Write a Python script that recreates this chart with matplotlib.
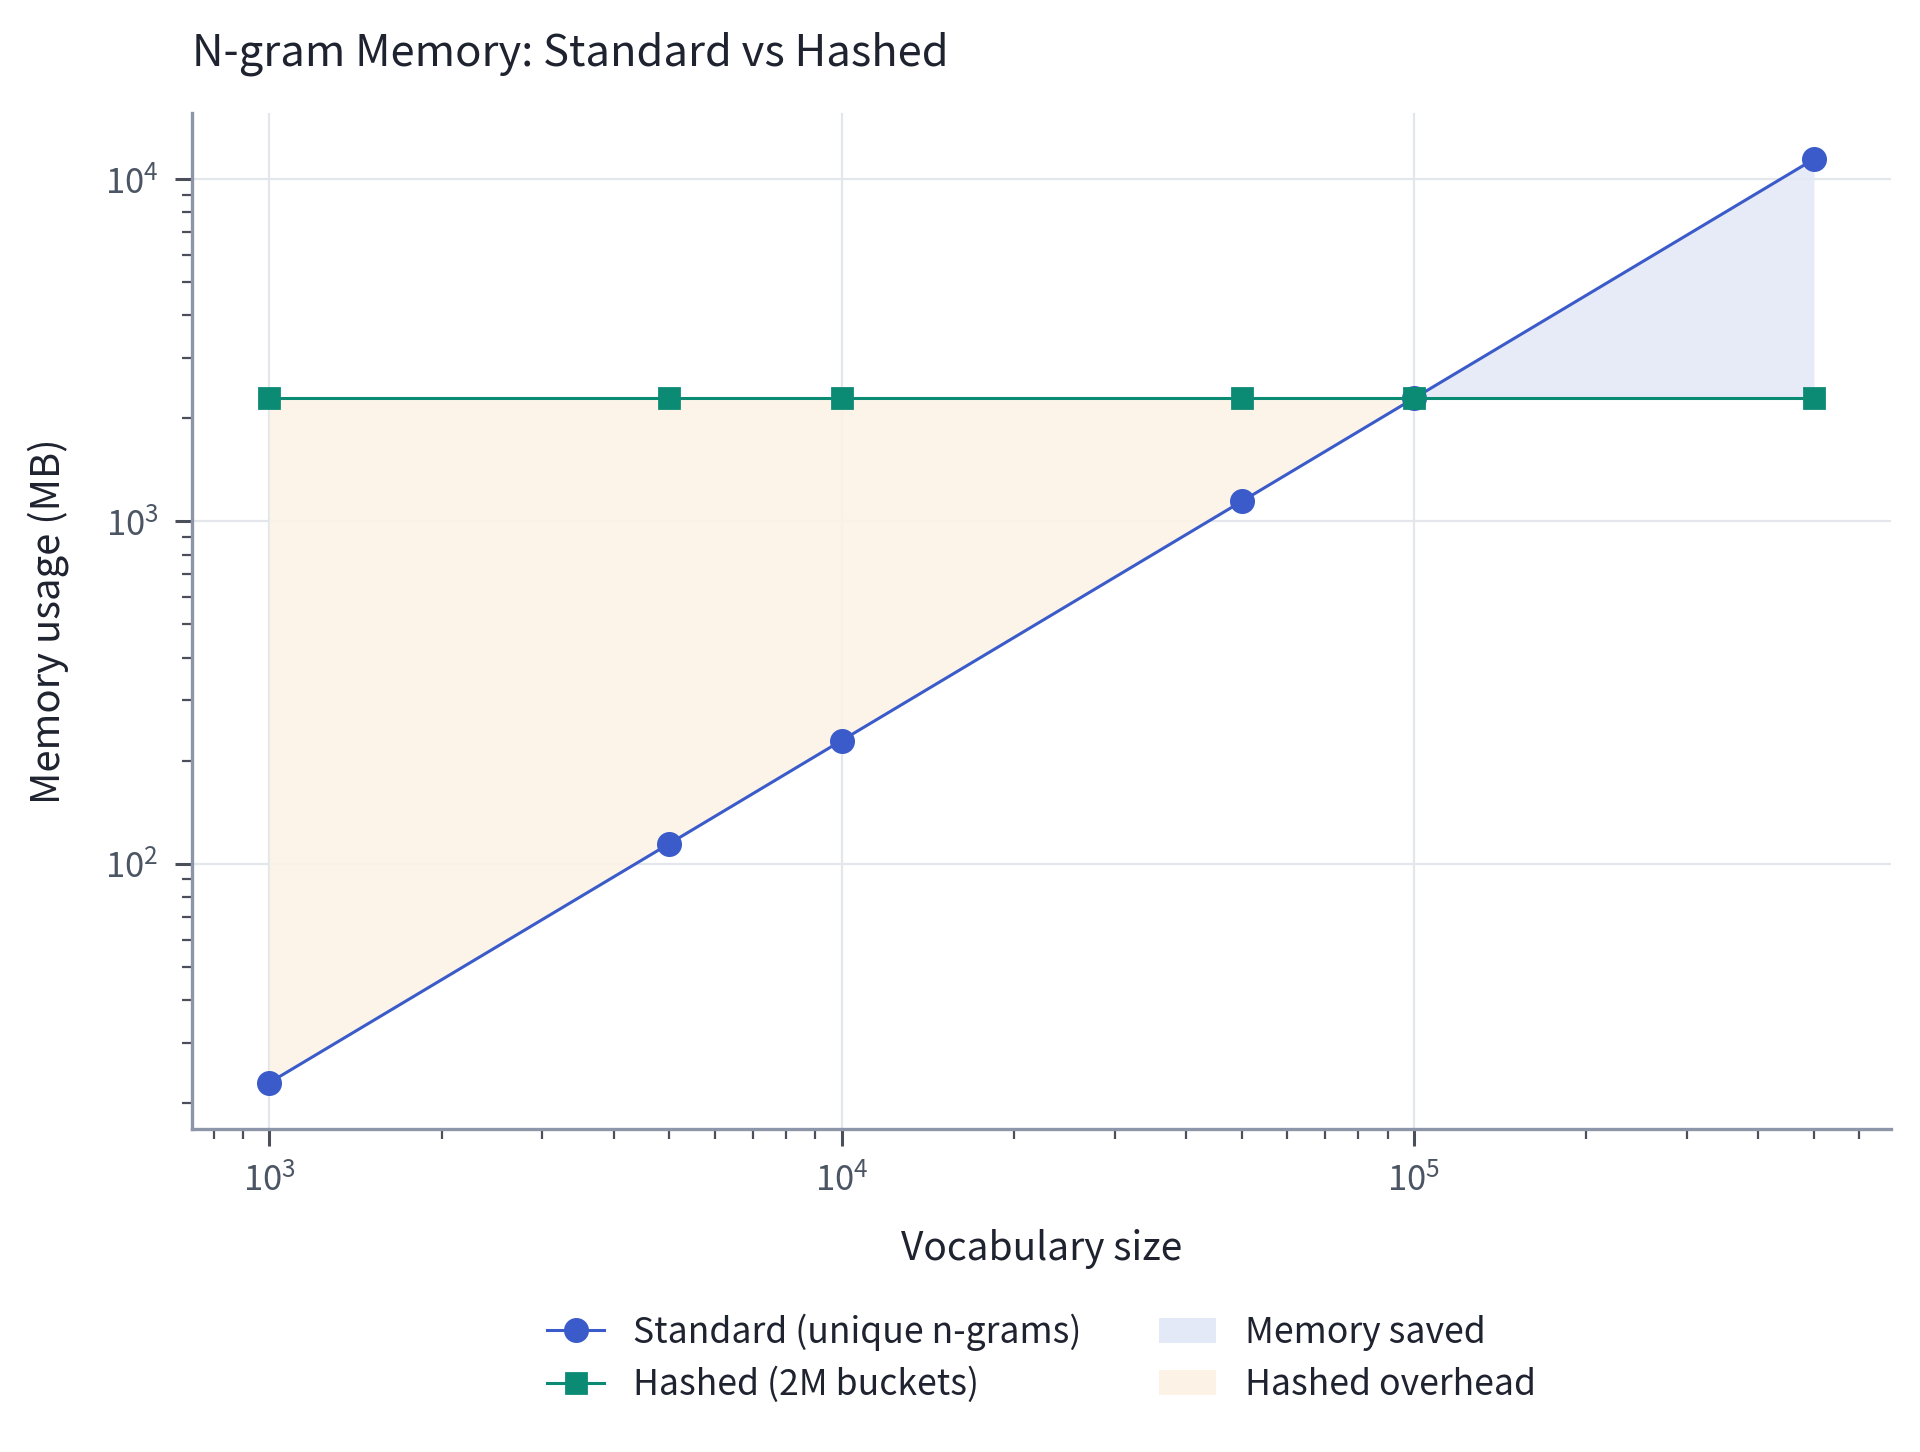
import numpy as np
import matplotlib
matplotlib.use('Agg')
import matplotlib.pyplot as plt
from matplotlib.patches import Patch
from matplotlib.lines import Line2D

plt.rcParams['font.family'] = ['Noto Sans CJK KR', 'DejaVu Sans']
plt.rcParams['mathtext.fontset'] = 'custom'
plt.rcParams['mathtext.rm'] = 'Noto Sans CJK KR'
plt.rcParams['mathtext.it'] = 'Noto Sans CJK KR'

vocab_sizes = [1000, 5000, 10000, 50000, 100000, 500000]
standard_mb = [22.9, 114.4, 228.9, 1144.0, 2289.0, 11444.0]
hashed_mb = [2289.0, 2289.0, 2289.0, 2289.0, 2289.0, 2289.0]

c_std = '#3a5bc9'
c_hash = '#0b8a74'
c_saved = '#e4e9f7'
c_over = '#fcf3e6'

fig = plt.figure(figsize=(9.6, 7.26), dpi=200)
ax = fig.add_axes([0.1, 0.2225, 0.885, 0.6997])

x = np.array(vocab_sizes)
s = np.array(standard_mb)
h = np.array(hashed_mb)

ax.fill_between(x, h, s, where=s >= h, color=c_saved, interpolate=True, lw=0, zorder=1, alpha=0.9)
ax.fill_between(x, s, h, where=h >= s, color=c_over, interpolate=True, lw=0, zorder=1, alpha=0.9)
ax.plot(x, s, color=c_std, lw=1.1, marker='o', markersize=8, zorder=3)
ax.plot(x, h, color=c_hash, lw=1.1, marker='s', markersize=7.5, zorder=3)

ax.set_xscale('log')
ax.set_yscale('log')
ax.grid(True, which='major', color='#e3e6eb', lw=0.8, zorder=0)
ax.set_axisbelow(True)

for side in ['top', 'right']:
    ax.spines[side].set_visible(False)
for side in ['left', 'bottom']:
    ax.spines[side].set_color('#8c96a8')
    ax.spines[side].set_linewidth(1.2)

ax.tick_params(which='major', length=6, width=1.1, color='#4a4f5a', labelsize=12.5, labelcolor='#4b5563', pad=6)
ax.tick_params(which='minor', length=3.5, width=0.8, color='#4a4f5a')

ax.set_title('N-gram Memory: Standard vs Hashed', loc='left', fontsize=15.7, color='#1f2330', pad=17)
ax.set_xlabel('Vocabulary size', fontsize=14, color='#1f2330', labelpad=11)
ax.set_ylabel('Memory usage (MB)', fontsize=14.4, color='#1f2330', labelpad=13)

handles = [
    Line2D([], [], color=c_std, lw=1.1, marker='o', markersize=8),
    Line2D([], [], color=c_hash, lw=1.1, marker='s', markersize=7.5),
    Patch(facecolor=c_saved, edgecolor='none'),
    Patch(facecolor=c_over, edgecolor='none'),
]
labels = ['Standard (unique n-grams)', 'Hashed (2M buckets)', 'Memory saved', 'Hashed overhead']
ax.legend(handles, labels, loc='upper center', bbox_to_anchor=(0.5, -0.15), ncol=2,
          frameon=False, fontsize=12.8, columnspacing=2.2, handlelength=1.6, labelspacing=0.45,
          labelcolor='#1f2330')

fig.savefig('out.png', dpi=200)
